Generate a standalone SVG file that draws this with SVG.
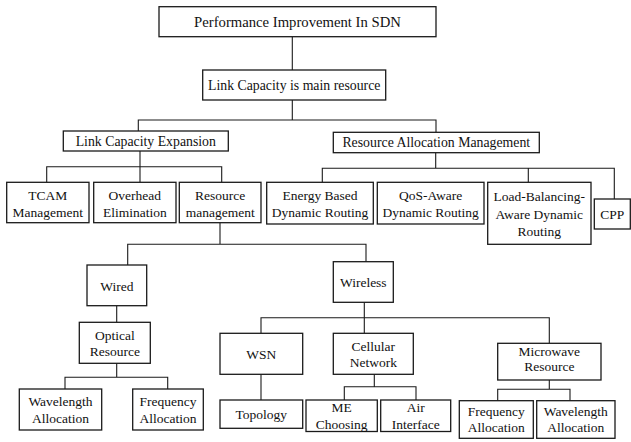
<svg xmlns="http://www.w3.org/2000/svg" width="631" height="442" viewBox="0 0 631 442" font-family="Liberation Serif, Times New Roman, serif">
  <style>
    rect { fill: #ffffff; stroke: #1a1a1a; stroke-width: 1.3; }
    text { font-size: 13.5px; fill: #111111; text-anchor: middle; }
    text.big { font-size: 13.8px; }
    text.title { font-size: 14.7px; }
    #connectors path { fill: none; stroke: #1a1a1a; stroke-width: 1.1; }
  </style>
  <rect x="0" y="0" width="631" height="442" style="fill:#ffffff;stroke:none"/>

  <!-- tree links -->
  <g id="connectors">
    <path d="M292.3 36.7 V70"/>
    <path d="M292.3 100 V120 M138.3 131 V120 H436 V132.3"/>
    <path d="M140 151 V182.3 M46.7 182.3 V166.7 H221.7 V182.3"/>
    <path d="M435.7 152.7 V168.3 M322.3 182.3 V168.3 H614.3 V199 M528.3 168.3 V182.3"/>
    <path d="M220 222.7 V244.3 M127.7 265 V244.3 H366 V261.7"/>
    <path d="M116.7 305.7 V322.3"/>
    <path d="M116.7 363.3 V377.3 M65 389 V377.3 H167.7 V389"/>
    <path d="M364.3 302.3 V333.3 M261 333.3 V317.7 H549.3 V343.3"/>
    <path d="M261 374.3 V400"/>
    <path d="M374.3 374.3 V386.7 M344.3 400 V386.7 H416 V400"/>
    <path d="M549.3 380 V389.3 M497.7 400.7 V389.3 H570 V400.7"/>
  </g>

  <g id="performance">
    <rect x="159" y="6.7" width="277" height="30"/>
    <text class="title" x="297.5" y="26.7">Performance Improvement In SDN</text>
  </g>
  <g id="link-capacity">
    <rect x="202.7" y="70" width="183" height="30"/>
    <text class="big" x="294.2" y="89.8">Link Capacity is main resource</text>
  </g>
  <g id="link-capacity-expansion">
    <rect x="63.3" y="131" width="165" height="20"/>
    <text class="big" x="145.8" y="146">Link Capacity Expansion</text>
  </g>
  <g id="resource-allocation">
    <rect x="333.3" y="132.3" width="206" height="20.4"/>
    <text class="big" x="436.3" y="147.3">Resource Allocation Management</text>
  </g>

  <g id="tcam">
    <rect x="6.7" y="182.3" width="82.3" height="40.4"/>
    <text x="47.8" y="199.5">TCAM</text>
    <text x="47.8" y="216.5">Management</text>
  </g>
  <g id="overhead">
    <rect x="93.7" y="182.3" width="82.3" height="40.4"/>
    <text x="134.8" y="199.5">Overhead</text>
    <text x="134.8" y="216.5">Elimination</text>
  </g>
  <g id="resource-management">
    <rect x="179.3" y="182.3" width="81.7" height="40.4"/>
    <text x="220.2" y="199.5">Resource</text>
    <text x="220.2" y="216.5">management</text>
  </g>
  <g id="energy-routing">
    <rect x="266.7" y="182.3" width="106.6" height="41.7"/>
    <text x="320" y="200">Energy Based</text>
    <text x="320" y="217">Dynamic Routing</text>
  </g>
  <g id="qos-routing">
    <rect x="377.3" y="182.3" width="106.7" height="41.7"/>
    <text x="430.7" y="200">QoS-Aware</text>
    <text x="430.7" y="217">Dynamic Routing</text>
  </g>
  <g id="load-balancing-routing">
    <rect x="487.7" y="182.3" width="103.3" height="62"/>
    <text x="539.3" y="201">Load-Balancing-</text>
    <text x="539.3" y="219">Aware Dynamic</text>
    <text x="539.3" y="236">Routing</text>
  </g>
  <g id="cpp">
    <rect x="594.3" y="199" width="36" height="30"/>
    <text x="612.3" y="218.5">CPP</text>
  </g>

  <g id="wired">
    <rect x="87" y="265" width="59.7" height="40.7"/>
    <text x="116.8" y="290.5">Wired</text>
  </g>
  <g id="wireless">
    <rect x="333.3" y="261.7" width="60" height="40.6"/>
    <text x="363.3" y="286.5">Wireless</text>
  </g>

  <g id="optical-resource">
    <rect x="79.3" y="322.3" width="71" height="41"/>
    <text x="114.8" y="339.8">Optical</text>
    <text x="114.8" y="356">Resource</text>
  </g>
  <g id="wsn">
    <rect x="220" y="333.3" width="82.7" height="41"/>
    <text x="261.3" y="358.5">WSN</text>
  </g>
  <g id="cellular-network">
    <rect x="333.3" y="333.3" width="80" height="41"/>
    <text x="373.3" y="350.8">Cellular</text>
    <text x="373.3" y="367.3">Network</text>
  </g>
  <g id="microwave-resource">
    <rect x="497.7" y="343.3" width="103.3" height="36.7"/>
    <text x="549.3" y="355.5">Microwave</text>
    <text x="549.3" y="370.5">Resource</text>
  </g>

  <g id="wavelength-allocation-optical">
    <rect x="19.3" y="389" width="82.4" height="41"/>
    <text x="60.5" y="406">Wavelength</text>
    <text x="60.5" y="423">Allocation</text>
  </g>
  <g id="frequency-allocation-optical">
    <rect x="132.7" y="389" width="70.6" height="41"/>
    <text x="168" y="406">Frequency</text>
    <text x="168" y="423">Allocation</text>
  </g>
  <g id="topology">
    <rect x="220" y="400" width="82.7" height="28.3"/>
    <text x="261.3" y="419">Topology</text>
  </g>
  <g id="me-choosing">
    <rect x="306" y="400" width="71.3" height="31.5"/>
    <text x="341.7" y="412">ME</text>
    <text x="341.7" y="429">Choosing</text>
  </g>
  <g id="air-interface">
    <rect x="380.7" y="400" width="70" height="31.5"/>
    <text x="415.7" y="412">Air</text>
    <text x="415.7" y="429">Interface</text>
  </g>
  <g id="frequency-allocation-microwave">
    <rect x="459.3" y="400.7" width="74" height="37.6"/>
    <text x="496.3" y="415.5">Frequency</text>
    <text x="496.3" y="432">Allocation</text>
  </g>
  <g id="wavelength-allocation-microwave">
    <rect x="536.7" y="400.7" width="78.3" height="37.6"/>
    <text x="575.8" y="415.5">Wavelength</text>
    <text x="575.8" y="432">Allocation</text>
  </g>
</svg>
